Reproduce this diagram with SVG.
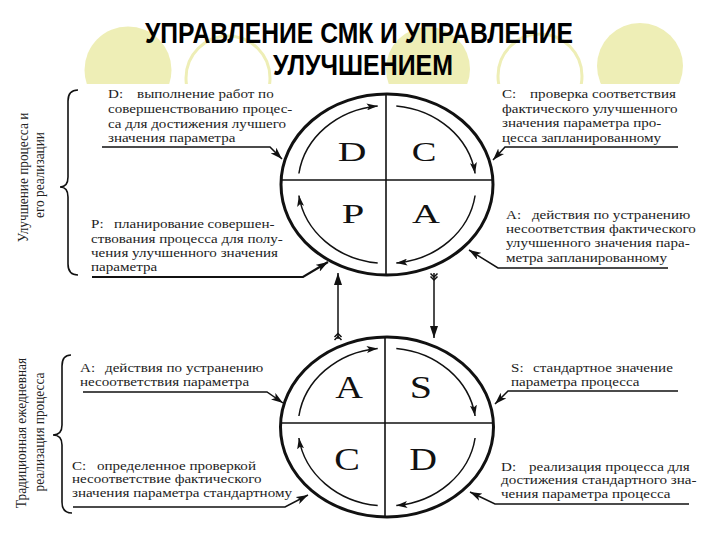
<svg xmlns="http://www.w3.org/2000/svg" width="720" height="540" viewBox="0 0 720 540">
<style>
.t{font-family:"Liberation Serif","Times New Roman",serif;font-size:12.2px;fill:#222}
.v{font-family:"Liberation Serif","Times New Roman",serif;font-size:13.3px;fill:#222;text-anchor:middle}
.big{font-family:"Liberation Serif","Times New Roman",serif;fill:#111;text-anchor:middle}
.title{font-family:"Liberation Sans",Arial,sans-serif;font-weight:bold;font-size:29px;fill:#000}
.ell{fill:none;stroke:#111;stroke-width:3}
.div{stroke:#111;stroke-width:1.6;fill:none}
.arc{fill:none;stroke:#111;stroke-width:1.5}
.call{fill:none;stroke:#111;stroke-width:1.5}
.brace{fill:none;stroke:#111;stroke-width:1.6}
.cf{fill:#EEEEB6}
.co{fill:none;stroke:#EEEEB6;stroke-width:3}
</style>
<defs>
<clipPath id="topclip"><rect x="0" y="0" width="720" height="84"/></clipPath>
<marker id="ah" viewBox="0 0 12 8" refX="12" refY="4" markerWidth="12" markerHeight="8" markerUnits="userSpaceOnUse" orient="auto">
<path d="M0,0 L12,4 L0,8 L3,4 z" fill="#111"/>
</marker>
<marker id="ac" viewBox="0 0 11 7" refX="11" refY="3.5" markerWidth="11" markerHeight="7" markerUnits="userSpaceOnUse" orient="auto">
<path d="M0,0 L11,3.5 L0,7 L2.5,3.5 z" fill="#111"/>
</marker>
<marker id="av" viewBox="0 0 12 8" refX="12" refY="4" markerWidth="12" markerHeight="8" markerUnits="userSpaceOnUse" orient="auto">
<path d="M0,0 L12,4 L0,8 z" fill="#111"/>
</marker>
</defs>

<g id="background" clip-path="url(#topclip)">
<circle class="cf" cx="128" cy="70" r="43.5"/>
<circle class="co" cx="228" cy="78" r="42"/>
<circle class="cf" cx="428" cy="69" r="42"/>
<circle class="co" cx="540" cy="76" r="42"/>
<circle class="cf" cx="640" cy="66" r="43"/>
</g>

<g id="title">
<text class="title" x="145" y="43" textLength="428" lengthAdjust="spacingAndGlyphs">УПРАВЛЕНИЕ СМК И УПРАВЛЕНИЕ</text>
<text class="title" x="273" y="75" textLength="180" lengthAdjust="spacingAndGlyphs">УЛУЧШЕНИЕМ</text>
</g>

<g id="pdca-cycle">
<ellipse class="ell" cx="387" cy="184.5" rx="106" ry="90.5"/>
<line class="div" x1="281" y1="180" x2="493" y2="180"/>
<line class="div" x1="386" y1="94" x2="386" y2="275"/>
<g transform="translate(352,161) scale(1.42,1)"><text class="big" x="0" y="0" font-size="28">D</text></g>
<g transform="translate(424,161) scale(1.32,1)"><text class="big" x="0" y="0" font-size="28">C</text></g>
<g transform="translate(353,223) scale(1.45,1)"><text class="big" x="0" y="0" font-size="28">P</text></g>
<g transform="translate(426,223) scale(1.38,1)"><text class="big" x="0" y="0" font-size="28">A</text></g>
<path class="arc" marker-end="url(#ac)" d="M298.9,173.5 A89,79 0 0,1 377.7,105.9"/>
<path class="arc" marker-end="url(#ac)" d="M396.3,105.9 A89,79 0 0,1 475.1,173.5"/>
<path class="arc" marker-end="url(#ac)" d="M475.1,195.5 A89,79 0 0,1 396.3,263.1"/>
<path class="arc" marker-end="url(#ac)" d="M377.7,263.1 A89,79 0 0,1 298.9,195.5"/>
</g>

<g id="sdca-cycle">
<ellipse class="ell" cx="387" cy="427" rx="106.5" ry="90"/>
<line class="div" x1="281" y1="423" x2="493" y2="423"/>
<line class="div" x1="385" y1="337" x2="385" y2="517"/>
<g transform="translate(349,398) scale(1.2,1)"><text class="big" x="0" y="0" font-size="32">A</text></g>
<g transform="translate(421,398) scale(1.25,1)"><text class="big" x="0" y="0" font-size="32">S</text></g>
<g transform="translate(347,470) scale(1.2,1)"><text class="big" x="0" y="0" font-size="32">C</text></g>
<g transform="translate(423,470) scale(1.2,1)"><text class="big" x="0" y="0" font-size="32">D</text></g>
<path class="arc" marker-end="url(#ac)" d="M298.9,416 A89,79 0 0,1 377.7,348.4"/>
<path class="arc" marker-end="url(#ac)" d="M396.3,348.4 A89,79 0 0,1 475.1,416"/>
<path class="arc" marker-end="url(#ac)" d="M475.1,438 A89,79 0 0,1 396.3,505.6"/>
<path class="arc" marker-end="url(#ac)" d="M377.7,505.6 A89,79 0 0,1 298.9,438"/>
</g>

<g id="note-top-D">
<text class="t" transform="translate(108,0) scale(1.236,1)"><tspan x="0" y="98">D:</tspan><tspan x="23.5" y="98">выполнение работ по</tspan><tspan x="0" y="113">совершенствованию процес-</tspan><tspan x="0" y="128">са для достижения лучшего</tspan><tspan x="0" y="142">значения параметра</tspan></text>
</g>
<g id="note-top-P">
<text class="t" transform="translate(91,0) scale(1.236,1)"><tspan x="0" y="228">P:</tspan><tspan x="18.6" y="228">планирование совершен-</tspan><tspan x="0" y="243">ствования процесса для полу-</tspan><tspan x="0" y="257">чения улучшенного значения</tspan><tspan x="0" y="271">параметра</tspan></text>
</g>
<g id="note-top-C">
<text class="t" transform="translate(502,0) scale(1.236,1)"><tspan x="0" y="98">C:</tspan><tspan x="22.7" y="98">проверка соответствия</tspan><tspan x="0" y="113">фактического улучшенного</tspan><tspan x="0" y="127">значения параметра  про-</tspan><tspan x="0" y="142">цесса запланированному</tspan></text>
</g>
<g id="note-top-A">
<text class="t" transform="translate(506,0) scale(1.236,1)"><tspan x="0" y="219">A:</tspan><tspan x="21" y="219">действия по устранению</tspan><tspan x="0" y="233">несоответствия фактического</tspan><tspan x="0" y="247">улучшенного значения пара-</tspan><tspan x="0" y="262">метра  запланированному</tspan></text>
</g>
<g id="note-bottom-A">
<text class="t" transform="translate(80,0) scale(1.236,1)"><tspan x="0" y="372">A:</tspan><tspan x="20.2" y="372">действия по устранению</tspan><tspan x="0" y="386">несоответствия параметра</tspan></text>
</g>
<g id="note-bottom-C">
<text class="t" transform="translate(72,0) scale(1.236,1)"><tspan x="0" y="470">C:</tspan><tspan x="20.2" y="470">определенное проверкой</tspan><tspan x="0" y="483.5">несоответствие фактического</tspan><tspan x="0" y="497">значения параметра стандартному</tspan></text>
</g>
<g id="note-bottom-S">
<text class="t" transform="translate(511,0) scale(1.236,1)"><tspan x="0" y="372">S:</tspan><tspan x="17.8" y="372">стандартное значение</tspan><tspan x="0" y="386">параметра процесса</tspan></text>
</g>
<g id="note-bottom-D">
<text class="t" transform="translate(501,0) scale(1.236,1)"><tspan x="0" y="471">D:</tspan><tspan x="22.7" y="471">реализация процесса для</tspan><tspan x="0" y="484.5">достижения стандартного зна-</tspan><tspan x="0" y="498">чения параметра процесса</tspan></text>
</g>

<g id="side-label-top">
<path class="brace" d="M78,90 Q68,90 68,101 L68,177 Q68,187 60,187 Q68,187 68,197 L68,264 Q68,275 78,275"/>
<g transform="translate(28,177.5) scale(1.12,1) rotate(-90)"><text class="v" x="0" y="0">Улучшение процесса и</text></g>
<g transform="translate(44,175) scale(1.12,1) rotate(-90)"><text class="v" x="0" y="0">его реализации</text></g>
</g>
<g id="side-label-bottom">
<path class="brace" d="M71,355 Q62,355 62,366 L62,425 Q62,435 53,435 Q62,435 62,445 L62,502 Q62,513 72,513"/>
<g transform="translate(26,433) scale(1.12,1) rotate(-90)"><text class="v" x="0" y="0">Традиционная ежедневная</text></g>
<g transform="translate(44,432) scale(1.12,1) rotate(-90)"><text class="v" x="0" y="0">реализация процесса</text></g>
</g>

<g id="connectors">
<polyline class="call" marker-end="url(#ah)" points="102,147 270,147 282,159"/>
<polyline class="call" style="stroke-width:2.2" marker-end="url(#ah)" points="92,277 303,277 328,262"/>
<polyline class="call" marker-end="url(#ah)" points="678,147 505,147 493,160"/>
<polyline class="call" marker-end="url(#ah)" points="668,268 498,268 469,250"/>
<polyline class="call" marker-end="url(#ah)" points="83,392 267,392 283,403"/>
<polyline class="call" marker-end="url(#ah)" points="73,507 285,507 308,495"/>
<polyline class="call" marker-end="url(#ah)" points="678,391 508,391 495,404"/>
<polyline class="call" marker-end="url(#ah)" points="689,504 495,504 470,492"/>
<line class="call" x1="338" y1="339" x2="338" y2="273" marker-end="url(#av)"/>
<polyline class="call" points="334.5,337 338,333.5 341.5,337"/>
<polyline class="call" points="334.5,340 338,336.5 341.5,340"/>
<line class="call" x1="434" y1="273" x2="434" y2="338" marker-end="url(#av)"/>
<polyline class="call" points="430.5,273.5 434,277 437.5,273.5"/>
<polyline class="call" points="430.5,276.5 434,280 437.5,276.5"/>
</g>
</svg>
